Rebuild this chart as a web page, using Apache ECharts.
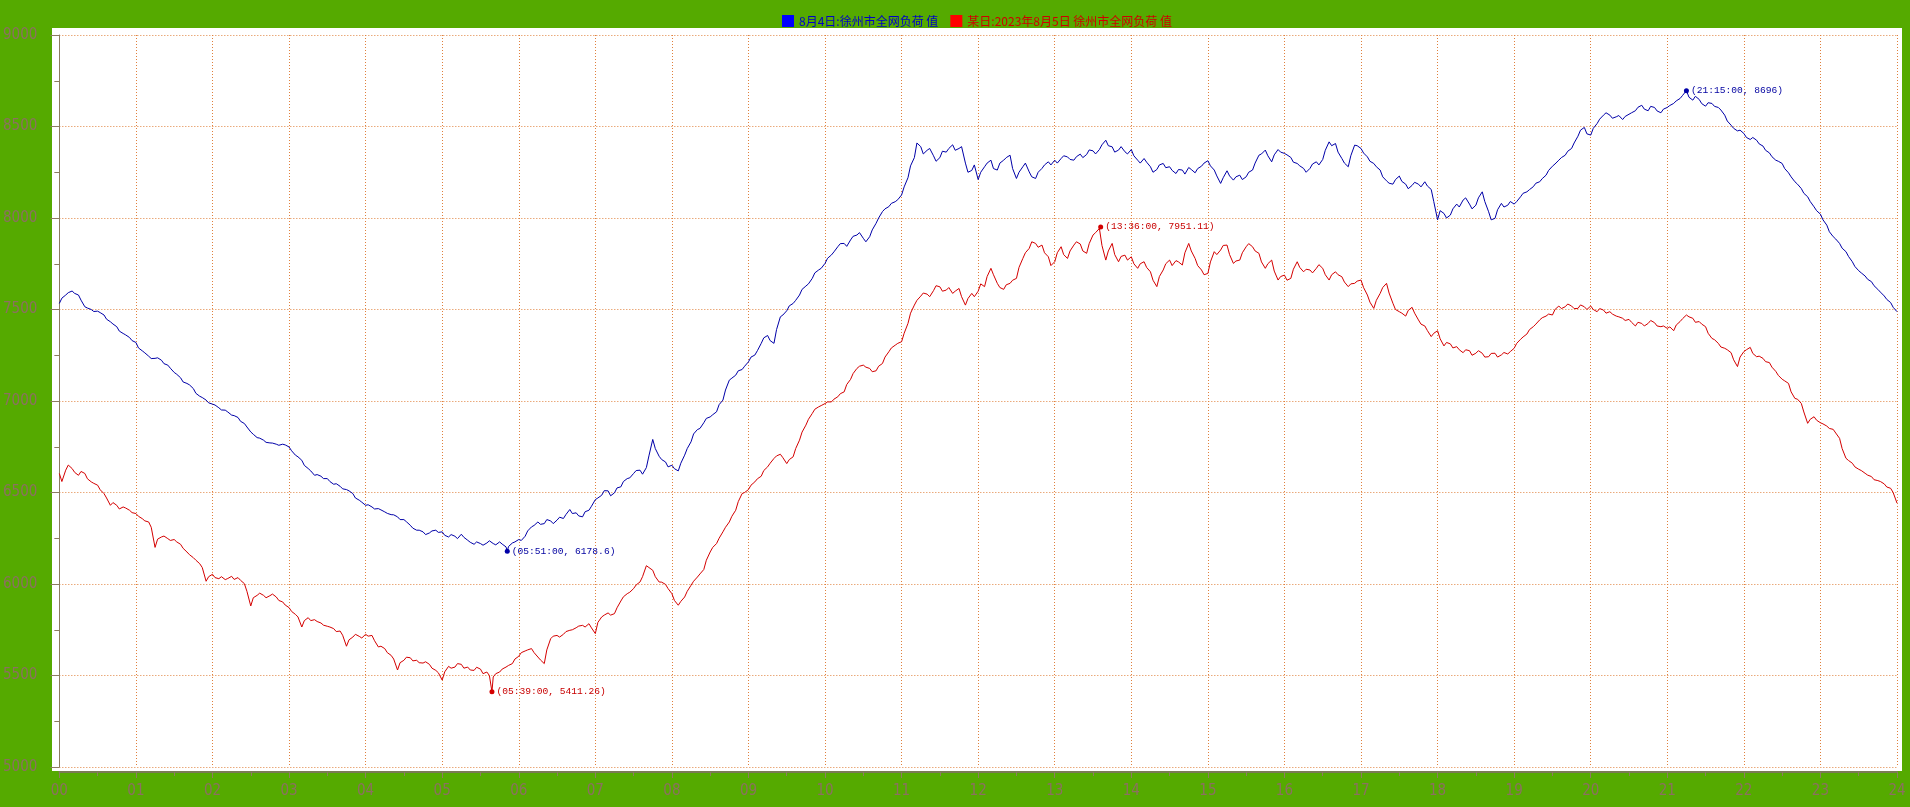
<!DOCTYPE html>
<html>
<head>
<meta charset="utf-8">
<script src="https://cdn.jsdelivr.net/npm/echarts@6/dist/echarts.min.js"></script>
<style>html,body{margin:0;padding:0;background:#55aa00;}#c{width:1910px;height:807px;}</style>
</head>
<body>
<div id="c"></div>
<script>
// ---- data: samples every 5 minutes (00:00 .. 24:00) plus readings 2 minutes after each sample ----
const blueName = '8月4日:徐州市全网负荷 值';
const redName = '某日:2023年8月5日 徐州市全网负荷 值';
const stepMinutes = 5;
const midOffset = 2;
const blueValues = [
 7533,7579,7601,7579,7515,7500,7491,7470,7433,7406,7369,7347,
 7320,7274,7245,7233,7223,7196,7156,7127,7096,7068,7026,7005,
 6983,6963,6950,6923,6910,6877,6831,6800,6786,6771,6764,6764,
 6749,6704,6676,6631,6594,6589,6576,6545,6534,6516,6494,6458,
 6430,6421,6412,6394,6379,6367,6352,6321,6294,6285,6279,6294,
 6285,6257,6261,6272,6239,6217,6221,6224,6221,6230,6203,6224,
 6243,6261,6312,6339,6330,6345,6349,6358,6407,6389,6367,6403,
 6461,6485,6509,6498,6531,6576,6604,6622,6636,6790,6698,6667,
 6649,6618,6704,6777,6844,6881,6913,6941,7005,7114,7141,7172,
 7214,7251,7315,7358,7315,7460,7493,7533,7579,7628,7670,7716,
 7752,7798,7843,7861,7880,7907,7889,7898,7971,8035,8062,8089,
 8126,8220,8330,8390,8370,8340,8330,8360,8400,8380,8300,8260,
 8210,8280,8316,8262,8316,8343,8216,8280,8252,8216,8271,8307,
 8316,8325,8334,8316,8349,8347,8367,8374,8425,8389,8371,8362,
 8374,8316,8325,8280,8265,8298,8280,8243,8262,8276,8247,8283,
 8313,8262,8189,8258,8207,8234,8225,8262,8343,8371,8307,8374,
 8353,8331,8298,8271,8271,8307,8320,8416,8407,8325,8280,8398,
 8380,8334,8298,8262,8203,8185,8229,8185,8178,8185,8198,8156,
 7990,8025,8016,8076,8098,8076,8070,8143,8034,7998,8080,8070,
 8076,8116,8143,8171,8198,8234,8283,8316,8343,8380,8447,8495,
 8453,8516,8562,8562,8553,8538,8567,8586,8616,8586,8604,8575,
 8604,8626,8653,8696,8644,8648,8611,8626,8604,8562,8507,8476,
 8462,8429,8425,8393,8356,8316,8298,8247,8198,8161,8116,8061,
 8021,7961,7898,7861,7816,7761,7712,7683,7652,7610,7574,7538,
 7488
];
const blueMid = [
 7562,7592,7588,7551,7508,7489,7483,7447,7421,7382,7361,7330,
 7290,7263,7232,7236,7204,7179,7146,7104,7088,7042,7019,6990,
 6978,6951,6940,6920,6889,6858,6818,6797,6774,6770,6758,6760,
 6728,6695,6648,6618,6598,6576,6560,6548,6520,6509,6470,6447,
 6433,6410,6405,6386,6378,6352,6340,6305,6294,6270,6290,6282,
 6266,6270,6248,6255,6228,6230,6212,6236,6214,6218,6205,6230,
 6238,6290,6320,6326,6352,6330,6365,6380,6385,6372,6395,6425,
 6470,6510,6482,6525,6560,6580,6620,6600,6700,6740,6680,6640,
 6630,6660,6740,6820,6850,6905,6925,6980,7060,7125,7165,7190,
 7240,7275,7345,7330,7390,7470,7520,7550,7610,7640,7700,7725,
 7780,7815,7860,7845,7900,7920,7870,7935,8000,8050,8080,8100,
 8170,8285,8410,8350,8380,8310,8365,8380,8370,8390,8250,8290,
 8250,8300,8270,8300,8330,8270,8250,8300,8225,8250,8290,8290,
 8300,8340,8320,8335,8330,8372,8350,8400,8395,8360,8390,8350,
 8340,8300,8305,8250,8290,8275,8260,8265,8240,8265,8270,8300,
 8285,8230,8220,8230,8225,8210,8250,8300,8350,8340,8345,8360,
 8345,8305,8285,8250,8295,8290,8370,8395,8360,8300,8340,8395,
 8355,8310,8280,8225,8190,8210,8200,8160,8195,8170,8175,8090,
 8040,8000,8050,8060,8110,8050,8110,8090,7990,8045,8060,8090,
 8090,8135,8155,8190,8215,8260,8295,8330,8365,8410,8480,8460,
 8490,8540,8575,8545,8560,8555,8575,8605,8595,8610,8585,8595,
 8615,8640,8670,8660,8665,8625,8630,8610,8590,8530,8490,8480,
 8440,8440,8405,8370,8335,8310,8270,8225,8185,8135,8090,8040,
 7990,7925,7885,7835,7790,7735,7700,7665,7630,7595,7555,7512
];
const redValues = [
 6604,6622,6631,6594,6604,6558,6540,6494,6430,6430,6421,6403,
 6385,6357,6339,6200,6257,6248,6243,6217,6175,6144,6111,6015,
 6053,6029,6024,6042,6035,6002,5880,5938,5938,5936,5929,5902,
 5871,5834,5765,5816,5805,5787,5769,5756,5743,5660,5710,5714,
 5725,5719,5656,5647,5610,5530,5583,5597,5583,5568,5561,5528,
 5475,5550,5546,5561,5546,5528,5535,5519,5492,5519,5546,5565,
 5605,5634,5647,5601,5565,5701,5719,5725,5747,5761,5774,5783,
 5729,5820,5842,5838,5907,5947,5975,6011,6100,6075,6011,5998,
 5947,5884,5929,5993,6038,6079,6175,6221,6285,6339,6403,6494,
 6516,6558,6589,6640,6686,6709,6658,6695,6786,6868,6932,6968,
 6986,6995,7023,7050,7118,7178,7196,7178,7165,7205,7269,7305,
 7324,7424,7524,7573,7584,7603,7624,7606,7588,7615,7524,7588,
 7600,7625,7725,7643,7610,7643,7670,7779,7834,7861,7852,7788,
 7761,7843,7779,7852,7858,7807,7907,7943,7770,7861,7761,7797,
 7788,7725,7761,7706,7625,7716,7770,7767,7743,7861,7779,7716,
 7697,7816,7825,7852,7752,7770,7843,7843,7807,7725,7770,7661,
 7688,7670,7761,7706,7716,7725,7725,7661,7706,7679,7625,7643,
 7661,7579,7506,7588,7643,7534,7488,7464,7512,7443,7410,7352,
 7384,7301,7312,7297,7264,7275,7261,7261,7242,7261,7252,7257,
 7288,7337,7366,7406,7443,7464,7470,7519,7515,7519,7506,7515,
 7519,7488,7497,7488,7464,7452,7446,7410,7424,7424,7428,7406,
 7397,7384,7434,7470,7452,7434,7406,7342,7315,7288,7264,7188,
 7270,7293,7242,7233,7210,7162,7119,7096,7014,6987,6878,6914,
 6881,6863,6845,6796,6687,6660,6627,6605,6587,6565,6547,6523,
 6442
];
const redMid = [
 6560,6650,6610,6615,6575,6550,6515,6470,6445,6410,6415,6390,
 6370,6345,6310,6245,6262,6238,6230,6195,6160,6130,6090,6040,
 6035,6040,6030,6025,6020,5960,5925,5950,5925,5945,5910,5885,
 5850,5820,5800,5800,5795,5775,5765,5740,5720,5695,5725,5705,
 5715,5690,5660,5625,5590,5570,5600,5580,5570,5575,5540,5515,
 5520,5540,5565,5540,5530,5545,5510,5500,5510,5535,5555,5590,
 5625,5640,5625,5585,5640,5715,5710,5740,5750,5770,5765,5760,
 5790,5830,5830,5870,5930,5955,5995,6040,6090,6040,6010,5975,
 5910,5905,5960,6015,6055,6130,6200,6250,6310,6370,6450,6500,
 6540,6575,6620,6660,6700,6690,6680,6740,6830,6900,6955,6975,
 6995,7010,7040,7090,7150,7190,7185,7160,7190,7240,7290,7315,
 7370,7480,7550,7590,7570,7630,7600,7620,7600,7570,7560,7570,
 7640,7680,7690,7620,7635,7660,7730,7810,7870,7840,7810,7740,
 7810,7800,7820,7870,7820,7860,7920,7850,7820,7800,7790,7770,
 7750,7750,7730,7660,7680,7750,7740,7760,7810,7820,7740,7690,
 7760,7800,7850,7800,7765,7810,7860,7820,7760,7750,7710,7680,
 7660,7720,7730,7720,7700,7745,7690,7690,7690,7650,7640,7655,
 7620,7540,7550,7620,7590,7500,7480,7495,7480,7420,7385,7370,
 7340,7320,7290,7280,7280,7250,7275,7240,7260,7240,7265,7270,
 7315,7350,7390,7420,7455,7475,7500,7505,7530,7505,7525,7500,
 7500,7505,7480,7475,7460,7440,7430,7430,7410,7440,7410,7410,
 7405,7415,7450,7460,7430,7420,7370,7335,7295,7280,7225,7240,
 7280,7260,7245,7215,7185,7140,7110,7050,7010,6940,6900,6895,
 6875,6850,6825,6740,6675,6640,6620,6595,6570,6560,6530,6500
];
// extreme readings that fall between samples: [minute of day, value]
const blueExtra = [[351, 6178.6]];
const redExtra = [[339, 5411.26], [816, 7951.11]];
const yTicks = {min: 5000, max: 9000, step: 500};
const xTicks = {min: 0, max: 1440, step: 60};

function build(values, mids, extra) {
  const pts = values.map((v, i) => [i * stepMinutes, v])
    .concat(mids.map((v, i) => [i * stepMinutes + midOffset, v]))
    .concat(extra);
  pts.sort((a, b) => a[0] - b[0]);
  return pts;
}
const blueData = build(blueValues, blueMid, blueExtra);
const redData = build(redValues, redMid, redExtra);

function pad(n) { return (n < 10 ? '0' : '') + n; }
function extremes(pts) {
  let mn = pts[0], mx = pts[0];
  pts.forEach(p => { if (p[1] < mn[1]) mn = p; if (p[1] > mx[1]) mx = p; });
  return [mn, mx].map(p => ({coord: [p[0], p[1]], value: p[1]}));
}
function markLabel(p) {
  const m = p.data.coord[0];
  return '(' + pad(Math.floor(m / 60)) + ':' + pad(m % 60) + ':00, ' + p.data.value + ')';
}

const blueLine = '#0000a8', redLine = '#d40000';
const labelColor = '#8c7060';
const gridColor = '#e0803c';
const axisFont = "'Liberation Sans Narrow','DejaVu Sans Condensed',sans-serif";
const markFont = "'Liberation Mono','DejaVu Sans Mono',monospace";

const chart = echarts.init(document.getElementById('c'), null, {renderer: 'canvas'});
chart.setOption({
  backgroundColor: '#55aa00',
  animation: false,
  graphic: [{
    type: 'rect', z: -10, silent: true,
    shape: {x: 52, y: 28, width: 1850, height: 743},
    style: {fill: '#ffffff'}
  }],
  legend: {
    left: 777, top: 10,
    icon: 'rect', itemWidth: 12, itemHeight: 12, itemGap: 12,
    textStyle: {fontSize: 12, fontFamily: "'Noto Sans CJK SC',sans-serif"},
    data: [
      {name: blueName, itemStyle: {color: '#0000ff'}, textStyle: {color: '#0000c8'}},
      {name: redName, itemStyle: {color: '#ff0000'}, textStyle: {color: '#d00000'}}
    ]
  },
  grid: {left: 57, right: 13, top: 35, bottom: 40, containLabel: false},
  xAxis: {
    type: 'value', min: xTicks.min, max: xTicks.max, interval: xTicks.step,
    offset: 5,
    axisLine: {show: true, lineStyle: {color: '#7a7a55', width: 2}},
    axisTick: {show: true, length: 6, lineStyle: {color: '#8c7c60'}},
    minorTick: {show: true, splitNumber: 2, length: 4, lineStyle: {color: '#8c7c60'}},
    axisLabel: {color: labelColor, fontSize: 15, fontFamily: axisFont, margin: 12,
      formatter: v => pad(v / 60)},
    splitLine: {show: true, lineStyle: {color: gridColor, type: [1, 2], width: 1}}
  },
  yAxis: {
    type: 'value', min: yTicks.min, max: yTicks.max, interval: yTicks.step,
    offset: 8,
    axisLine: {show: true, lineStyle: {color: '#8c7c60', width: 1}},
    axisTick: {show: true, length: 9, lineStyle: {color: '#8c7c60'}},
    minorTick: {show: true, splitNumber: 2, length: 5, lineStyle: {color: '#8c7c60'}},
    axisLabel: {color: labelColor, fontSize: 15, fontFamily: axisFont, margin: 14,
      formatter: v => String(v)},
    splitLine: {show: true, lineStyle: {color: gridColor, type: [1, 2], width: 1}}
  },
  series: [
    {
      name: blueName, type: 'line', data: blueData, showSymbol: false,
      lineStyle: {color: blueLine, width: 1}, itemStyle: {color: blueLine},
      markPoint: {
        symbol: 'circle', symbolSize: 5,
        itemStyle: {color: blueLine},
        label: {show: true, position: 'right', distance: 2, color: '#0000a0',
          fontSize: 9.6, fontFamily: markFont, formatter: markLabel},
        data: extremes(blueData)
      }
    },
    {
      name: redName, type: 'line', data: redData, showSymbol: false,
      lineStyle: {color: redLine, width: 1}, itemStyle: {color: redLine},
      markPoint: {
        symbol: 'circle', symbolSize: 5,
        itemStyle: {color: redLine},
        label: {show: true, position: 'right', distance: 2, color: '#c80000',
          fontSize: 9.6, fontFamily: markFont, formatter: markLabel},
        data: extremes(redData)
      }
    }
  ]
});
</script>
</body>
</html>
